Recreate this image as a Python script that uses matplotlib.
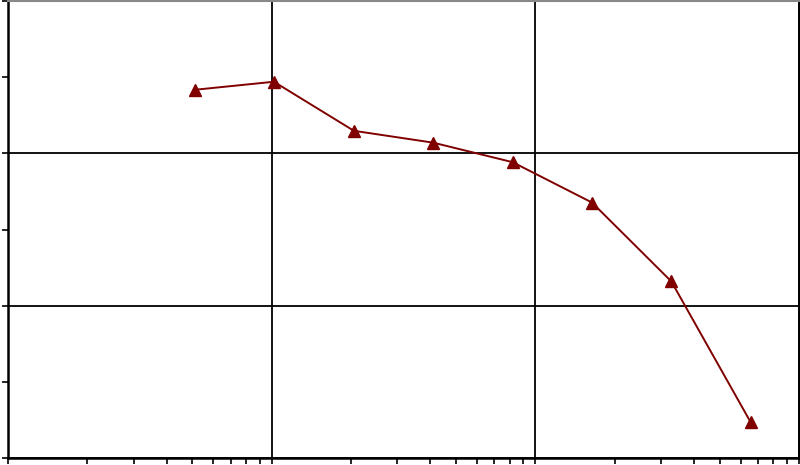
import matplotlib
matplotlib.use("Agg")
import matplotlib.pyplot as plt
from matplotlib.ticker import LogLocator, MultipleLocator, NullFormatter


# values (log x, linear y)
x_values = [0.51, 1.02, 2.05, 4.1, 8.2, 16.4, 32.8, 65.6]
y_values = [2.417, 2.47, 2.148, 2.07, 1.942, 1.677, 1.159, 0.234]

LINE_COLOR = "#800000"


def main() -> None:
    fig = plt.figure(figsize=(8.0, 4.65), dpi=100)
    ax = fig.add_axes([8 / 800, 7 / 465, 791 / 800, 457 / 465])

    ax.plot(
        x_values,
        y_values,
        color=LINE_COLOR,
        linewidth=1.4,
        marker="^",
        markersize=9,
        markerfacecolor=LINE_COLOR,
        markeredgecolor=LINE_COLOR,
        zorder=3,
    )

    ax.set_xscale("log")
    ax.set_xlim(0.1, 100)
    ax.set_ylim(0, 3)

    ax.xaxis.set_major_locator(LogLocator(base=10))
    ax.xaxis.set_minor_locator(LogLocator(base=10, subs=range(2, 10)))
    ax.yaxis.set_major_locator(MultipleLocator(1))
    ax.yaxis.set_minor_locator(MultipleLocator(0.5))
    ax.xaxis.set_major_formatter(NullFormatter())
    ax.xaxis.set_minor_formatter(NullFormatter())
    ax.yaxis.set_major_formatter(NullFormatter())

    ax.grid(which="major", color="black", linewidth=1.3)
    ax.tick_params(which="both", direction="out", length=4, width=1.2, color="black")
    ax.tick_params(top=False, right=False)

    for side in ["left", "bottom", "right"]:
        ax.spines[side].set_color("black")
        ax.spines[side].set_linewidth(1.8)
    ax.spines["top"].set_color("#888888")
    ax.spines["top"].set_linewidth(1.5)

    fig.savefig("out.png", dpi=100)
    plt.close(fig)


if __name__ == "__main__":
    main()
